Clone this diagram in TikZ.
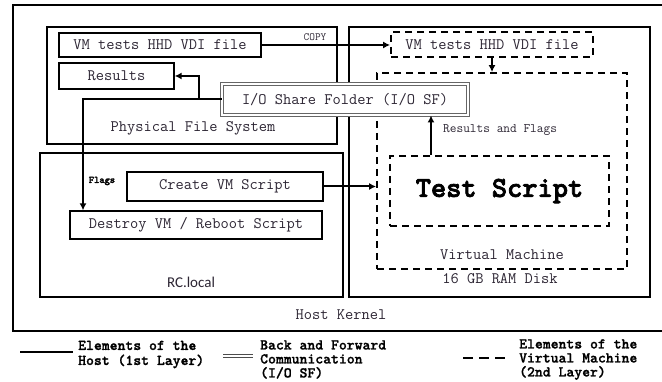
\documentclass[tikz,border=0pt]{standalone}
\usepackage{fontspec}
\newfontfamily\calib{Carlito}
\newfontfamily\monob{lmmonolt10-bold.otf}[FakeBold=2.5]
\newfontfamily\monobl{lmmonolt10-bold.otf}[FakeBold=1.2]
\newcommand{\mono}{\ttfamily}
\usetikzlibrary{arrows.meta,calc}
\definecolor{txt}{RGB}{45,38,52}
\tikzset{
  box/.style={draw=black, line width=1.3pt, inner sep=0pt, fill=white},
  dbox/.style={draw=black, line width=1.8pt, dash pattern=on 7pt off 5pt, inner sep=0pt},
  iobox/.style={draw=black!60, line width=0.9pt, double=white, double distance=1.6pt, fill=white, inner sep=0pt},
  lbl/.style={text=txt, font=\mono\fontsize{16}{18}\selectfont, inner sep=0pt},
  arr/.style={line width=2pt, -{Latex[length=7pt,width=7pt]}},
  leg/.style={font=\monobl\fontsize{15}{15}\selectfont, align=left, anchor=west, inner sep=0pt, text=black},
}
\begin{document}
\begin{tikzpicture}[x=1pt,y=-1pt]
\useasboundingbox (0,0) rectangle (662,382);
% outer host kernel box (open on right, runs off the picture)
\coordinate (o1) at (664,5);
\coordinate (o2) at (13,5);
\coordinate (o3) at (13,331);
\coordinate (o4) at (664,331);
\draw[line width=1.6pt] (o1) -- (o2) -- (o3) -- (o4);
\node[lbl] (hk) at (341,315) {Host Kernel};

% physical file system
\node[box, minimum width=290pt, minimum height=117pt] (pfs) at (192,85.5) {};
\node[lbl] (pfsl) at (193,128) {Physical File System};
\node[box, lbl, draw=black, minimum width=202pt, minimum height=24pt] (vmfile) at (160,45) {VM tests HHD VDI file};
\node[box, lbl, draw=black, minimum width=115pt, minimum height=26pt] (results) at (116.5,76) {Results};

% RAM disk
\node[box, minimum width=301pt, minimum height=270pt] (ram) at (499.5,162) {};
\node[lbl] (raml) at (500,279) {16 GB RAM Disk};
\node[dbox, lbl, draw=black, minimum width=202pt, minimum height=25pt] (vmfile2) at (492,44.5) {VM tests HHD VDI file};
\node[dbox, minimum width=250pt, minimum height=196pt] (vm) at (502,171) {};
\node[lbl] (vml) at (502,255) {Virtual Machine};
\node[dbox, minimum width=219pt, minimum height=70pt, font=\monob\fontsize{29}{32}\selectfont] (test) at (499.5,191) {Test Script};

% RC.local
\node[box, minimum width=303pt, minimum height=144pt] (rc) at (191.5,225) {};
\node[text=txt, font=\calib\fontsize{15}{17}\selectfont, inner sep=0pt] (rcl) at (191,282) {RC.local};
\node[box, lbl, draw=black, minimum width=196pt, minimum height=29pt] (create) at (225,186.5) {Create VM Script};
\node[box, lbl, draw=black, minimum width=252pt, minimum height=28pt] (destroy) at (196,225) {Destroy VM / Reboot Script};

% I/O share folder (on top of the box edges)
\node[iobox, lbl, minimum width=246pt, minimum height=31pt] (iosf) at (345,99.5) {I/O Share Folder (I/O SF)};

% connectors
\draw[arr] (vmfile.east) -- (vmfile.east -| vmfile2.west);
\node[text=txt, font=\mono\fontsize{11}{12}\selectfont, inner sep=0pt] (copyl) at (315,37) {COPY};
\draw[arr] (vmfile2.south) -- (vmfile2.south |- vm.north);
\draw[arr] (create.east) -- (create.east -| vm.west);
\draw[arr] (iosf.west) -- ++(-23,0) |- (results.east);
\draw[arr] (iosf.west) -| ([xshift=-113pt]destroy.north);
\node[text=black, font=\monob\fontsize{10}{11}\selectfont, inner sep=0pt] (flagsl) at (102,181) {Flags};
\draw[arr] ([xshift=-68.5pt]test.north) -- ([xshift=-68.5pt]test.north |- iosf.south);
\node[text=txt, font=\mono\fontsize{13}{14}\selectfont, inner sep=0pt, anchor=west] (rfl) at (443,130) {Results and Flags};

% legend
\coordinate (l1a) at (20,352);
\coordinate (l1b) at (73,352);
\draw[line width=2pt] (l1a) -- (l1b);
\node[leg] (l1t) at (78,354.5) {Elements of the\\Host (1st Layer)};
\coordinate (l2a) at (223,354.5);
\coordinate (l2b) at (253,354.5);
\coordinate (l2c) at (223,357.8);
\coordinate (l2d) at (253,357.8);
\draw[draw=black!70, line width=1.1pt] (l2a) -- (l2b);
\draw[draw=black!70, line width=1.1pt] (l2c) -- (l2d);
\node[leg] (l2t) at (260,359.5) {Back and Forward\\[-1pt]Communication\\[-1pt](I/O SF)};
\coordinate (l3a) at (463,358);
\coordinate (l3b) at (505,358);
\draw[line width=2pt, dash pattern=on 10pt off 6pt] (l3a) -- (l3b);
\node[leg] (l3t) at (519,359.5) {Elements of the\\[-1pt]Virtual Machine\\[-1pt](2nd Layer)};
\end{tikzpicture}
\end{document}
